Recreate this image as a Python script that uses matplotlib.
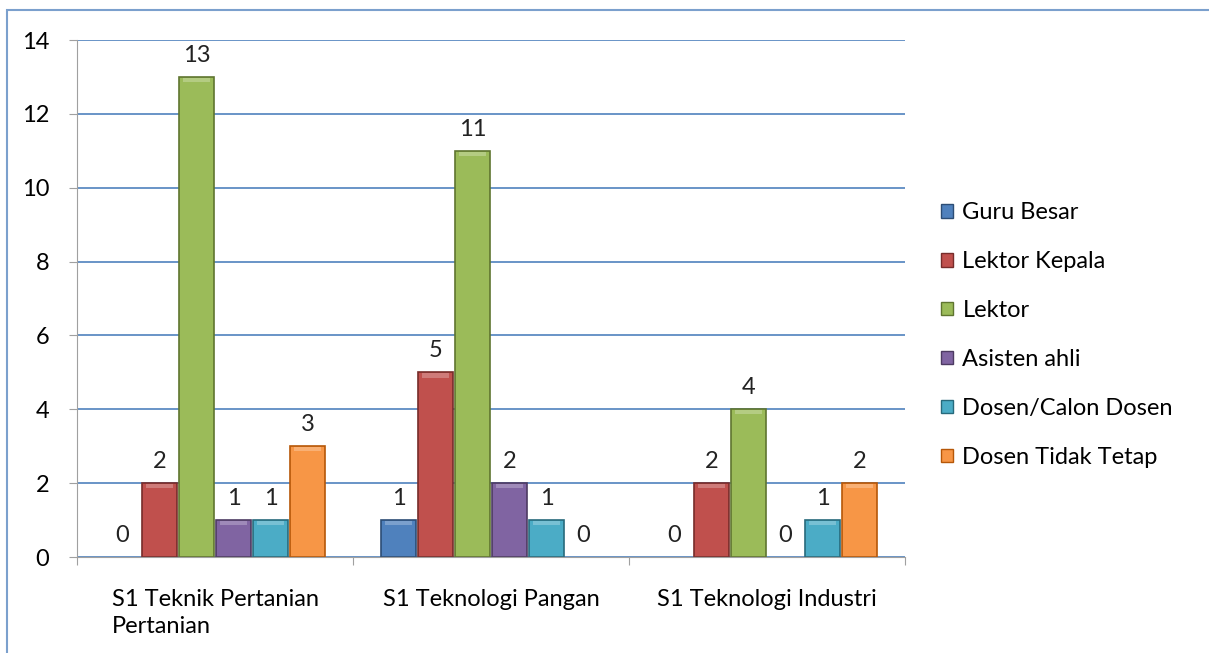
import matplotlib.pyplot as plt
import matplotlib.patches as mpatches
import numpy as np

plt.rcParams['font.family'] = ['Lato', 'DejaVu Sans']

CATEGORIES = ["S1 Teknik Pertanian\nPertanian", "S1 Teknologi Pangan", "S1 Teknologi Industri"]
SERIES = ["Guru Besar", "Lektor Kepala", "Lektor", "Asisten ahli",
          "Dosen/Calon Dosen", "Dosen Tidak Tetap"]
GURU_BESAR = [0, 1, 0]
LEKTOR_KEPALA = [2, 5, 2]
LEKTOR = [13, 11, 4]
ASISTEN_AHLI = [1, 2, 0]
DOSEN_CALON = [1, 1, 1]
DOSEN_TIDAK_TETAP = [3, 0, 2]

COLOURS = ["#4F81BD", "#C0504D", "#9BBB59", "#8064A2", "#4BACC6", "#F79646"]
EDGES = ["#2C4D75", "#772C2A", "#5F7530", "#4D3B62", "#276A7C", "#B65708"]

values = [GURU_BESAR, LEKTOR_KEPALA, LEKTOR, ASISTEN_AHLI, DOSEN_CALON, DOSEN_TIDAK_TETAP]

FS = 17

fig = plt.figure(figsize=(12.09, 6.53), dpi=100)
ax = fig.add_axes([77 / 1209, 1 - 557 / 653, 828 / 1209, 517 / 653])

# chart border (clipped at right and bottom like the reference)
fig.patches.append(mpatches.Rectangle((7 / 1209, -0.05), 1.1, 1 - 10 / 653 + 0.05,
                                      transform=fig.transFigure, fill=False,
                                      edgecolor="#7BA0CD", linewidth=1.5))

x = np.arange(len(CATEGORIES))
w = 0.134
for i, (name, vals) in enumerate(zip(SERIES, values)):
    pos = x + (i - 2.5) * w
    for p, v in zip(pos, vals):
        if v > 0:
            ax.bar(p, v, width=w * 0.96, color=COLOURS[i], edgecolor=EDGES[i], linewidth=1.2, zorder=3)
            # bevel highlight on top
            ax.bar(p, 0.12, bottom=v - 0.14, width=w * 0.75, color="white", alpha=0.25,
                   linewidth=0, zorder=4)
        ax.annotate(str(v), (p, v), xytext=(0, 8), textcoords="offset points",
                    ha="center", va="bottom", fontsize=FS, color="#222222")

ax.set_xlim(-0.5, 2.5)
ax.set_ylim(0, 14)
ax.set_yticks(range(0, 15, 2))
ax.yaxis.grid(True, color="#4F81BD", linewidth=1.2, zorder=0)
ax.set_axisbelow(True)

ax.set_xticks([-0.5, 0.5, 1.5, 2.5])
ax.set_xticklabels([])
ax.set_xticks(x, minor=True)
ax.set_xticklabels(CATEGORIES, minor=True, fontsize=FS, multialignment="left",
                   linespacing=1.35)
ax.tick_params(axis="x", which="minor", length=0, pad=23)
ax.tick_params(axis="x", which="major", length=6, color="#A0A0A0", direction="out")
ax.tick_params(axis="y", length=6, color="#A0A0A0", pad=14, labelsize=FS)

for s in ["top", "right"]:
    ax.spines[s].set_visible(False)
ax.spines["left"].set_color("#A0A0A0")
ax.spines["bottom"].set_color("#A0A0A0")
ax.spines["bottom"].set_zorder(5)

handles = [mpatches.Patch(facecolor=c, edgecolor=e, label=n) for c, e, n in zip(COLOURS, EDGES, SERIES)]
fig.legend(handles=handles, loc="center left", bbox_to_anchor=(920 / 1209, 1 - 335 / 653),
           frameon=False, fontsize=FS, handlelength=0.5, handleheight=0.5,
           handletextpad=0.4, labelspacing=1.18)

fig.savefig("out.png", dpi=100)
